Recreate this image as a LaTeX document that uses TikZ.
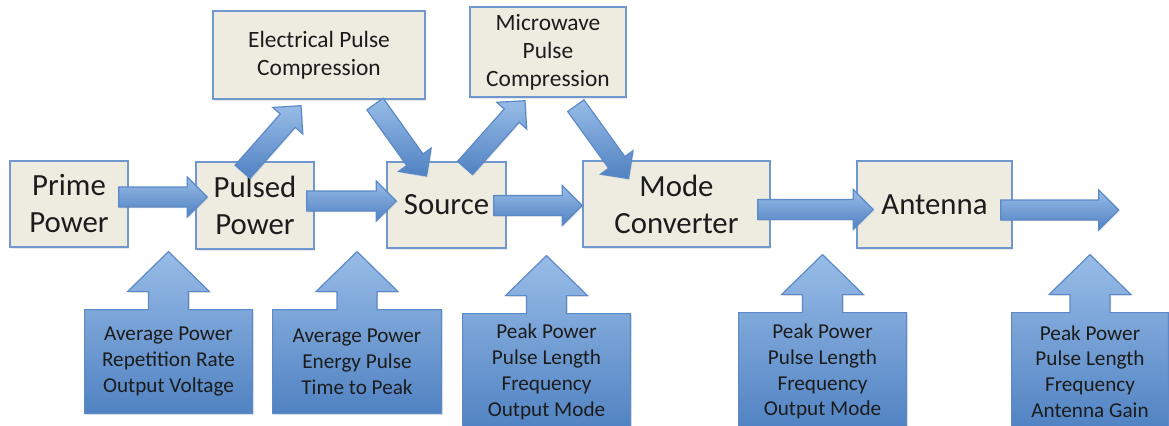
\documentclass[tikz,border=0pt]{standalone}
\usepackage{fontspec}
\setmainfont{Carlito}
\usetikzlibrary{calc,shadows}
\definecolor{boxfill}{RGB}{238,236,225}
\definecolor{boxline}{RGB}{112,152,206}
\definecolor{arrlight}{RGB}{152,188,231}
\definecolor{arrdark}{RGB}{80,130,194}
\definecolor{arrline}{RGB}{92,138,200}
\definecolor{txt}{RGB}{28,28,28}
\pgfdeclarelayer{back}
\pgfsetlayers{back,main}
\tikzset{stage/.style={draw=boxline, line width=0.7pt, fill=boxfill, inner sep=0pt, align=center, text=txt, font=\fontsize{15.4}{18.5}\selectfont, drop shadow={opacity=0.18, shadow xshift=0.7pt, shadow yshift=-0.8pt}}}
\tikzset{compress/.style={stage, font=\fontsize{11.7}{14}\selectfont}}
\tikzset{param/.style={inner sep=0pt, align=center, text=txt, font=\fontsize{10.6}{12.9}\selectfont}}
\tikzset{paramshape/.style={draw=arrline, line width=0.6pt, top color=arrlight, bottom color=arrdark, drop shadow={opacity=0.18, shadow xshift=0.7pt, shadow yshift=-0.8pt}}}
\tikzset{fatarrow/.style={draw=arrline, line width=0.6pt, top color=arrlight, bottom color=arrdark, drop shadow={opacity=0.15, shadow xshift=0.6pt, shadow yshift=-0.7pt}}}
% block arrow from #1 to #2
\newcommand{\fatarr}[2]{%
	\path ($(#2)!10pt!(#1)$) coordinate (fa-base);
	\path[fatarrow] ($(#1)!5pt!90:(#2)$) -- ($(fa-base)!5pt!90:(#2)$) -- ($(fa-base)!10pt!90:(#2)$) -- (#2)
		-- ($(fa-base)!10pt!-90:(#2)$) -- ($(fa-base)!5pt!-90:(#2)$) -- ($(#1)!5pt!-90:(#2)$) -- cycle;}
% box with an arrow pointing up
\newcommand{\upcallout}[1]{%
	\begin{pgfonlayer}{back}
	\path[paramshape] (#1.south west) -- (#1.north west) -- ($(#1.north)+(-20,0)$) -- ($(#1.north)+(-20,-18)$)
		-- ($(#1.north)+(-41,-18)$) -- ($(#1.north)+(0,-58)$) -- ($(#1.north)+(41,-18)$) -- ($(#1.north)+(20,-18)$)
		-- ($(#1.north)+(20,0)$) -- (#1.north east) -- (#1.south east) -- cycle;
	\end{pgfonlayer}}

\begin{document}
\begin{tikzpicture}[x=0.5pt, y=-0.5pt]
	\useasboundingbox (0,0) rectangle (1169,425);
	\clip (0,0) rectangle (1169,425);

	\node[stage, minimum width=59pt, minimum height=43pt] (prime) at (69,204) {Prime\\Power};
	\node[stage, minimum width=59pt, minimum height=43.5pt] (pulsed) at (255,205.5) {Pulsed\\Power};
	\node[stage, minimum width=59.5pt, minimum height=43pt] (source) at (446.5,205) {Source};
	\node[stage, minimum width=93.5pt, minimum height=43pt] (mode) at (676.5,204) {Mode\\Converter};
	\node[stage, minimum width=77.5pt, minimum height=43.5pt] (antenna) at (934.5,204.5) {Antenna};

	\node[compress, minimum width=106pt, minimum height=44pt] (epc) at (319,55) {Electrical Pulse\\Compression};
	\node[compress, minimum width=78pt, minimum height=45pt] (mpc) at (548,52) {Microwave\\Pulse\\Compression};

	% ends of the block arrows
	\coordinate (a1) at ($(prime.east)+(-10,-7)$);
	\coordinate (b1) at ($(pulsed.west)+(12,-8.5)$);
	\coordinate (a2) at ($(pulsed.east)+(-8,-4.5)$);
	\coordinate (b2) at ($(source.west)+(10,-4)$);
	\coordinate (a3) at ($(source.east)+(-13,0.5)$);
	\coordinate (b3) at ($(mode.west)+(0,1.5)$);
	\coordinate (a4) at ($(mode.east)+(-13,5.5)$);
	\coordinate (b4) at ($(antenna.west)+(17,5)$);
	\coordinate (a5) at ($(antenna.east)+(-12,5.5)$);
	\coordinate (out) at ($(antenna.east)+(106,5.5)$);
	\coordinate (a6) at ($(pulsed.north)+(-12.5,10.5)$);
	\coordinate (b6) at ($(epc.south)+(-18,6)$);
	\coordinate (a7) at ($(epc.south)+(56,4.3)$);
	\coordinate (b7) at ($(source.north)+(-20,14.7)$);
	\coordinate (a8) at ($(source.north)+(18.5,6.7)$);
	\coordinate (b8) at ($(mpc.south)+(-23,3)$);
	\coordinate (a9) at ($(mpc.south)+(27.8,8)$);
	\coordinate (b9) at ($(mode.north)+(-48,18.3)$);

	\fatarr{a1}{b1}
	\fatarr{a2}{b2}
	\fatarr{a3}{b3}
	\fatarr{a4}{b4}
	\fatarr{a5}{out}
	\fatarr{a6}{b6}
	\fatarr{a7}{b7}
	\fatarr{a8}{b8}
	\fatarr{a9}{b9}

	\node[param, minimum width=83.5pt, minimum height=51.5pt] (p1) at (168.5,361.5) {Average Power\\Repetition Rate\\Output Voltage};
	\node[param, minimum width=84pt, minimum height=51.5pt] (p2) at (357,361.5) {Average Power\\Energy Pulse\\Time to Peak};
	\node[param, minimum width=83.5pt, minimum height=58pt] (p3) at (546.5,372) {Peak Power\\Pulse Length\\Frequency\\Output Mode};
	\node[param, minimum width=83.5pt, minimum height=58.5pt] (p4) at (822.5,371.5) {Peak Power\\Pulse Length\\Frequency\\Output Mode};
	\node[param, minimum width=78pt, minimum height=58.5pt] (p5) at (1090,371.5) {Peak Power\\Pulse Length\\Frequency\\Antenna Gain};
	\upcallout{p1}
	\upcallout{p2}
	\upcallout{p3}
	\upcallout{p4}
	\upcallout{p5}
\end{tikzpicture}
\end{document}
